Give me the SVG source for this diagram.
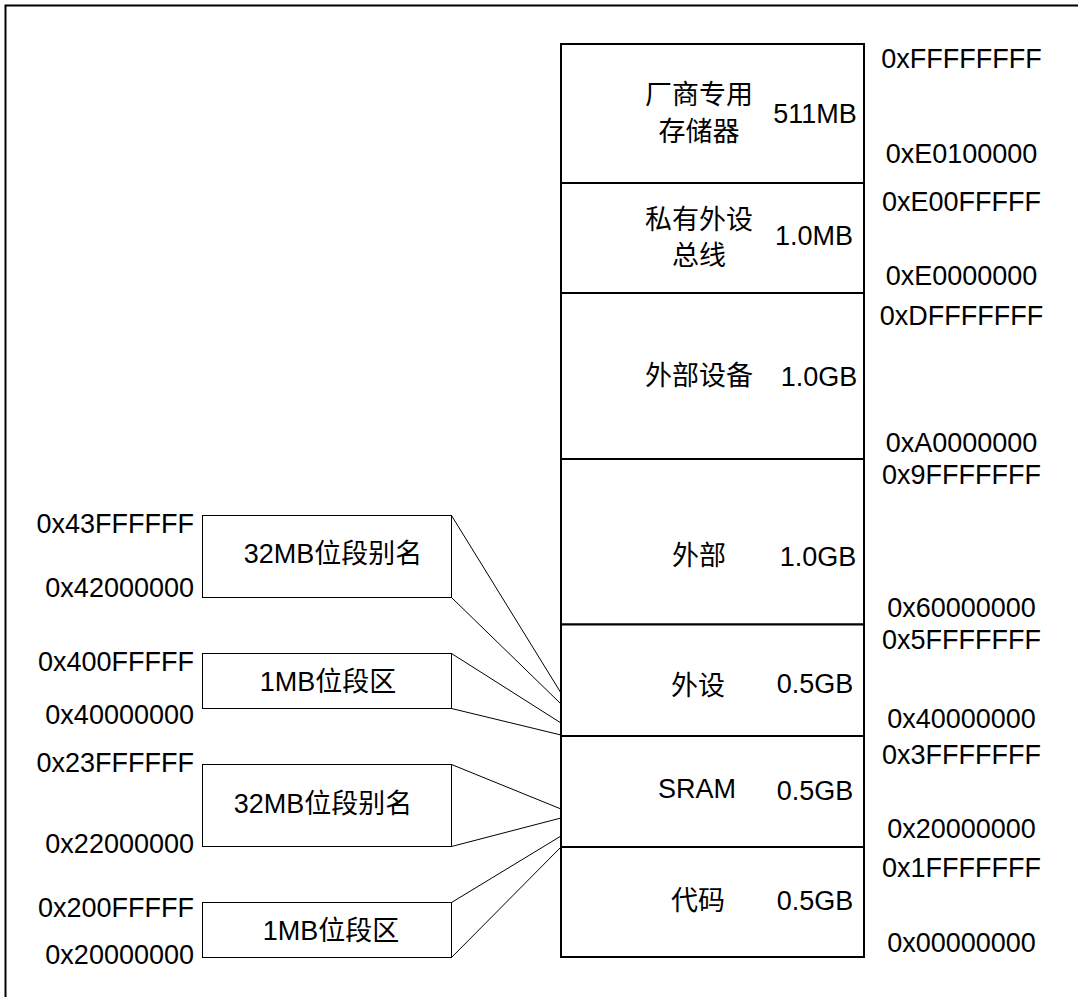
<svg xmlns="http://www.w3.org/2000/svg" width="1078" height="997" viewBox="0 0 1078 997">
<style>
  .t { font-family: "Liberation Sans", "Noto Sans CJK SC", Arial, sans-serif; font-size: 27px; fill: #000; }
  .m { text-anchor: middle; }
  .e { text-anchor: end; }
  .blk { fill: #fff; stroke: #000; stroke-width: 2; }
  .sub { fill: #fff; stroke: #000; stroke-width: 1; }
  .conn line { stroke: #000; stroke-width: 1; }
</style>
<rect x="0" y="0" width="1078" height="997" fill="#fff"/>
<rect id="frame" x="5.5" y="5.5" width="1080" height="1000" fill="none" stroke="#000" stroke-width="2"/>

<g id="blk-vendor">
  <rect class="blk" x="561" y="44" width="303" height="139"/>
  <text class="t m" x="699" y="104">厂商专用</text>
  <text class="t m" x="699" y="141">存储器</text>
  <text class="t m" x="815" y="123">511MB</text>
  <text class="t m" x="961.5" y="68">0xFFFFFFFF</text>
  <text class="t m" x="961.5" y="163">0xE0100000</text>
</g>
<g id="blk-ppb">
  <rect class="blk" x="561" y="183" width="303" height="110"/>
  <text class="t m" x="699" y="229">私有外设</text>
  <text class="t m" x="699" y="265">总线</text>
  <text class="t m" x="814" y="245">1.0MB</text>
  <text class="t m" x="961.5" y="211">0xE00FFFFF</text>
  <text class="t m" x="961.5" y="285">0xE0000000</text>
</g>
<g id="blk-extdev">
  <rect class="blk" x="561" y="293" width="303" height="166"/>
  <text class="t m" x="699" y="385">外部设备</text>
  <text class="t m" x="819" y="386">1.0GB</text>
  <text class="t m" x="961.5" y="325">0xDFFFFFFF</text>
  <text class="t m" x="961.5" y="452">0xA0000000</text>
</g>
<g id="blk-ext">
  <rect class="blk" x="561" y="459" width="303" height="165.5"/>
  <text class="t m" x="699" y="565">外部</text>
  <text class="t m" x="818" y="566">1.0GB</text>
  <text class="t m" x="961.5" y="484">0x9FFFFFFF</text>
  <text class="t m" x="961.5" y="617">0x60000000</text>
</g>
<g id="blk-periph">
  <rect class="blk" x="561" y="624.5" width="303" height="111.5"/>
  <text class="t m" x="698" y="695">外设</text>
  <text class="t m" x="815" y="693">0.5GB</text>
  <text class="t m" x="961.5" y="649">0x5FFFFFFF</text>
  <text class="t m" x="961.5" y="728">0x40000000</text>
</g>
<g id="blk-sram">
  <rect class="blk" x="561" y="736" width="303" height="111"/>
  <text class="t m" x="697" y="798">SRAM</text>
  <text class="t m" x="815" y="800">0.5GB</text>
  <text class="t m" x="961.5" y="764">0x3FFFFFFF</text>
  <text class="t m" x="961.5" y="838">0x20000000</text>
</g>
<g id="blk-code">
  <rect class="blk" x="561" y="847" width="303" height="110"/>
  <text class="t m" x="698" y="910">代码</text>
  <text class="t m" x="815" y="910">0.5GB</text>
  <text class="t m" x="961.5" y="877">0x1FFFFFFF</text>
  <text class="t m" x="961.5" y="952">0x00000000</text>
</g>

<g id="sub-periph-alias">
  <rect class="sub" x="202.5" y="515.5" width="249" height="82"/>
  <text class="t m" x="333" y="563">32MB位段别名</text>
  <text class="t e" x="194" y="533">0x43FFFFFF</text>
  <text class="t e" x="194" y="597">0x42000000</text>
</g>
<g id="sub-periph-band">
  <rect class="sub" x="202.5" y="653.5" width="249" height="55"/>
  <text class="t m" x="328" y="691">1MB位段区</text>
  <text class="t e" x="194" y="671">0x400FFFFF</text>
  <text class="t e" x="194" y="724">0x40000000</text>
</g>
<g id="sub-sram-alias">
  <rect class="sub" x="202.5" y="764.5" width="249" height="82"/>
  <text class="t m" x="323" y="813">32MB位段别名</text>
  <text class="t e" x="194" y="772">0x23FFFFFF</text>
  <text class="t e" x="194" y="853">0x22000000</text>
</g>
<g id="sub-sram-band">
  <rect class="sub" x="202.5" y="902.5" width="249" height="55"/>
  <text class="t m" x="331" y="940">1MB位段区</text>
  <text class="t e" x="194" y="917">0x200FFFFF</text>
  <text class="t e" x="194" y="964">0x20000000</text>
</g>

<g id="connectors" class="conn">
  <line x1="451.5" y1="515.5" x2="561" y2="693"/>
  <line x1="451.5" y1="597.5" x2="561" y2="704"/>
  <line x1="451.5" y1="653.5" x2="561" y2="723"/>
  <line x1="451.5" y1="708.5" x2="561" y2="735"/>
  <line x1="451.5" y1="764.5" x2="561" y2="809"/>
  <line x1="451.5" y1="846.5" x2="561" y2="818"/>
  <line x1="451.5" y1="902.5" x2="561" y2="836"/>
  <line x1="451.5" y1="957.5" x2="561" y2="847"/>
</g>
</svg>
